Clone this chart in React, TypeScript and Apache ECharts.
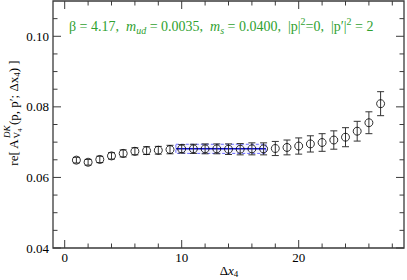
import React, { useEffect, useRef } from "react";
import * as echarts from "echarts";

const xValues = [1, 2, 3, 4, 5, 6, 7, 8, 9, 10, 11, 12, 13, 14, 15, 16, 17, 18, 19, 20, 21, 22, 23, 24, 25, 26, 27];
const yValues = [
  0.0649, 0.0643, 0.0651, 0.0661, 0.0668, 0.0674, 0.0676, 0.0677, 0.0679,
  0.0681, 0.0681, 0.0681, 0.0681, 0.068, 0.068, 0.0681, 0.0681,
  0.0682, 0.0685, 0.0689, 0.0695, 0.0699, 0.0706, 0.0714, 0.0731, 0.0755, 0.0809,
];
const yErrors = [
  0.0008, 0.0008, 0.0009, 0.0009, 0.001, 0.001, 0.0011, 0.0011, 0.0012,
  0.0012, 0.0013, 0.0014, 0.0014, 0.0015, 0.0016, 0.0017, 0.0017,
  0.002, 0.0021, 0.0023, 0.0023, 0.0025, 0.0026, 0.0027, 0.0028, 0.0031, 0.0034,
];
const fitStart = 9.5;
const fitEnd = 17.2;
const fitValue = 0.0681;
const fitError = 0.0013;

const xMin = -1;
const xMax = 29;
const yMin = 0.04;
const yMax = 0.11;
const xTickValues = [0, 2, 4, 6, 8, 10, 12, 14, 16, 18, 20, 22, 24, 26, 28];
const xMajorTicks = [0, 10, 20];
const yTickValues = [0.04, 0.045, 0.05, 0.055, 0.06, 0.065, 0.07, 0.075, 0.08, 0.085, 0.09, 0.095, 0.1, 0.105];
const yMajorTicks = [0.04, 0.06, 0.08, 0.1];

const FONT = "'Liberation Serif', 'DejaVu Serif', serif";
const GREEN = "#2fa12f";
const AXIS = "#3a3a3a";

function measure(text: string, size: number, style = "normal") {
  const c = document.createElement("canvas");
  const ctx = c.getContext("2d")!;
  ctx.font = `${style} ${size}px ${FONT}`;
  return ctx.measureText(text).width;
}

function buildYLabel() {
  const parts: any[] = [];
  const main = 13, small = 9, tiny = 7;
  let x = 0;
  const t = (text: string, px: number, py: number, size: number, style = "normal") => {
    parts.push({
      type: "text",
      x: px,
      y: py,
      style: { text, fontSize: size, fontFamily: FONT, fontStyle: style, fill: "#000", align: "left", verticalAlign: "middle" },
    });
  };
  const p1 = "re[ A";
  t(p1, x, 0, main);
  x += measure(p1, main);
  t("DK", x + 0.5, -6, small, "italic");
  const wDK = measure("DK", small, "italic") + 0.5;
  t("V", x, 4, small);
  const wV = measure("V", small);
  t("4", x + wV, 6.5, tiny);
  const wSub = wV + measure("4", tiny);
  x += Math.max(wDK, wSub) + 0.5;
  const p2 = "(p, p\u2032; \u0394x";
  t(p2, x, 0, main);
  x += measure(p2, main);
  t("4", x, 4, small);
  x += measure("4", small);
  const p3 = ") ]";
  t(p3, x, 0, main);
  x += measure(p3, main);
  const W = x;
  parts.forEach((p) => (p.x -= W / 2));
  return {
    type: "group",
    x: 13,
    y: 113,
    rotation: Math.PI / 2,
    children: parts,
  };
}

export default function App() {
  const ref = useRef<HTMLDivElement>(null);
  useEffect(() => {
    if (!ref.current) return;
    const chart = echarts.init(ref.current, null, { renderer: "svg" });

    const pointData = xValues.map((x, i) => [x, yValues[i]]);
    const errData = xValues.map((x, i) => [x, yValues[i], yErrors[i]]);
    const tickData: number[][] = [
      ...xTickValues.map((v) => [0, v, xMajorTicks.includes(v) ? 1 : 0]),
      ...yTickValues.map((v) => [1, v, yMajorTicks.some((m) => Math.abs(m - v) < 1e-9) ? 1 : 0]),
    ];

    const option: any = {
      animation: false,
      backgroundColor: "#fff",
      textStyle: { fontFamily: FONT },
      grid: { left: 53, right: 3, top: 1, bottom: 32, show: true, borderColor: AXIS, borderWidth: 1.3 },
      xAxis: {
        type: "value",
        min: xMin,
        max: xMax,
        interval: 1,
        axisLine: { show: false },
        axisTick: { show: false },
        splitLine: { show: false },
        axisLabel: {
          margin: 3,
          color: "#000",
          fontFamily: FONT,
          fontSize: 13,
          formatter: (v: number) => (Math.round(v) % 10 === 0 && Math.round(v) >= 0 ? String(Math.round(v)) : ""),
        },
      },
      yAxis: {
        type: "value",
        min: yMin,
        max: yMax,
        interval: 0.02,
        axisLine: { show: false },
        axisTick: { show: false },
        splitLine: { show: false },
        axisLabel: {
          margin: 4,
          color: "#000",
          fontFamily: FONT,
          fontSize: 13,
          showMaxLabel: false,
          formatter: (v: number) => v.toFixed(2),
        },
      },
      graphic: [
        {
          type: "text",
          x: 69,
          y: 26,
          style: {
            text:
              "{n|\u03b2 = 4.17,  }{i|m}{sub|ud}{n| = 0.0035,  }{i|m}{sub|s}{n| = 0.0400,  |p|}{sup|2}{n|=0,  |p\u2032|}{sup|2}{n| = 2}",
            verticalAlign: "middle",
            align: "left",
            fill: GREEN,
            fontFamily: FONT,
            fontSize: 14,
            rich: {
              n: { fontSize: 14, fontFamily: FONT, fill: GREEN, lineHeight: 19, verticalAlign: "middle" },
              i: { fontSize: 14, fontFamily: FONT, fontStyle: "italic", fill: GREEN, lineHeight: 19, verticalAlign: "middle" },
              sub: { fontSize: 10, fontFamily: FONT, fontStyle: "italic", fill: GREEN, verticalAlign: "bottom" },
              sup: { fontSize: 10, fontFamily: FONT, fill: GREEN, verticalAlign: "top" },
            },
          },
        },
        {
          type: "text",
          x: 229,
          y: 270,
          style: {
            text: "{n|\u0394}{i|x}{sub|4}",
            align: "center",
            verticalAlign: "middle",
            fill: "#000",
            fontFamily: FONT,
            fontSize: 13,
            rich: {
              n: { fontSize: 13, fontFamily: FONT, fill: "#000", lineHeight: 17, verticalAlign: "middle" },
              i: { fontSize: 13, fontFamily: FONT, fontStyle: "italic", fill: "#000", lineHeight: 17, verticalAlign: "middle" },
              sub: { fontSize: 9, fontFamily: FONT, fill: "#000", verticalAlign: "bottom" },
            },
          },
        },
        buildYLabel(),
      ],
      series: [
        {
          type: "custom",
          name: "band",
          z: 1,
          data: [[fitStart, fitEnd, fitValue, fitError]],
          encode: { x: [0, 1], y: 2 },
          renderItem: (params: any, api: any) => {
            const s = api.value(0), e = api.value(1), v = api.value(2), er = api.value(3);
            const p1 = api.coord([s, v + er]);
            const p2 = api.coord([e, v - er]);
            const c1 = api.coord([s, v]);
            const c2 = api.coord([e, v]);
            return {
              type: "group",
              children: [
                {
                  type: "rect",
                  shape: { x: p1[0], y: p1[1], width: p2[0] - p1[0], height: p2[1] - p1[1] },
                  style: { fill: "rgba(190,190,255,0.18)", stroke: "#6b6bff", lineWidth: 1, lineDash: [3, 2] },
                },
                {
                  type: "line",
                  shape: { x1: c1[0], y1: c1[1], x2: c2[0], y2: c2[1] },
                  style: { stroke: "#1010d0", lineWidth: 1.5 },
                },
              ],
            };
          },
        },
        {
          type: "custom",
          name: "errors",
          z: 2,
          data: errData,
          encode: { x: 0, y: 1 },
          renderItem: (params: any, api: any) => {
            const x = api.value(0), y = api.value(1), er = api.value(2);
            const top = api.coord([x, y + er]);
            const bot = api.coord([x, y - er]);
            const hw = 3.5;
            const style = { stroke: "#333", lineWidth: 1 };
            return {
              type: "group",
              children: [
                { type: "line", shape: { x1: top[0], y1: top[1], x2: bot[0], y2: bot[1] }, style },
                { type: "line", shape: { x1: top[0] - hw, y1: top[1], x2: top[0] + hw, y2: top[1] }, style },
                { type: "line", shape: { x1: bot[0] - hw, y1: bot[1], x2: bot[0] + hw, y2: bot[1] }, style },
              ],
            };
          },
        },
        {
          type: "scatter",
          name: "points",
          z: 3,
          data: pointData,
          symbol: "circle",
          symbolSize: 8,
          itemStyle: { color: "rgba(0,0,0,0)", borderColor: "#000", borderWidth: 1 },
        },
        {
          type: "custom",
          name: "ticks",
          z: 4,
          data: tickData,
          encode: { x: 1, y: 1 },
          renderItem: (params: any, api: any) => {
            const cs = params.coordSys;
            const kind = api.value(0), v = api.value(1), major = api.value(2);
            const len = major ? 8 : 4.5;
            const style = { stroke: AXIS, lineWidth: 1 };
            if (kind === 0) {
              const px = api.coord([v, yMin])[0];
              const b = cs.y + cs.height, t = cs.y;
              return {
                type: "group",
                children: [
                  { type: "line", shape: { x1: px, y1: b, x2: px, y2: b - len }, style },
                  { type: "line", shape: { x1: px, y1: t, x2: px, y2: t + len }, style },
                ],
              };
            }
            const py = api.coord([xMin, v])[1];
            const l = cs.x, r = cs.x + cs.width;
            return {
              type: "group",
              children: [
                { type: "line", shape: { x1: l, y1: py, x2: l + len, y2: py }, style },
                { type: "line", shape: { x1: r, y1: py, x2: r - len, y2: py }, style },
              ],
            };
          },
        },
      ],
    };
    chart.setOption(option);
    return () => chart.dispose();
  }, []);
  return <div ref={ref} style={{ position: "fixed", left: 0, top: 0, width: 407, height: 280 }} />;
}
